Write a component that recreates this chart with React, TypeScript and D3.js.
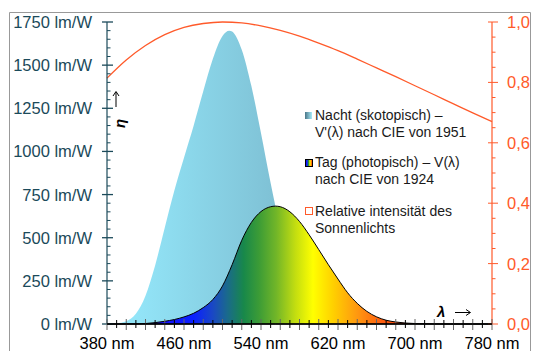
import React, { useRef, useEffect } from 'react';
import * as d3 from 'd3';

// scotopic V'(λ), CIE 1951
const scotNm = [380, 390, 400, 410, 420, 430, 440, 450, 460, 470, 480, 490, 500, 507, 510, 520, 530, 540, 550, 560, 570, 580, 590, 600, 610, 620, 630, 640, 650, 660, 680, 700, 780];
const scotV = [0.000589, 0.002209, 0.00929, 0.03484, 0.0966, 0.1998, 0.3281, 0.455, 0.567, 0.676, 0.793, 0.904, 0.982, 1.0, 0.997, 0.935, 0.811, 0.65, 0.481, 0.3288, 0.2076, 0.1212, 0.0655, 0.03315, 0.01593, 0.00737, 0.003335, 0.001497, 0.000677, 0.000313, 0.0000715, 0.0000178, 0];
const scotPeak = 1700;

// photopic V(λ), CIE 1924
const photNm = [380, 390, 400, 410, 420, 430, 440, 450, 460, 470, 480, 490, 500, 510, 520, 530, 540, 550, 555, 560, 570, 580, 590, 600, 610, 620, 630, 640, 650, 660, 670, 680, 690, 700, 710, 720, 730, 740, 750, 760, 770, 780];
const photV = [0.000039, 0.00012, 0.000396, 0.00121, 0.004, 0.0116, 0.023, 0.038, 0.06, 0.09098, 0.13902, 0.20802, 0.323, 0.503, 0.71, 0.862, 0.954, 0.99495, 1.0, 0.995, 0.952, 0.87, 0.757, 0.631, 0.503, 0.381, 0.265, 0.175, 0.107, 0.061, 0.032, 0.017, 0.00821, 0.004102, 0.002091, 0.001047, 0.00052, 0.000249, 0.00012, 0.00006, 0.00003, 0.000015];
const photPeak = 683;

// relative intensity of sunlight
const sunNm = [380, 400, 420, 440, 460, 480, 500, 520, 540, 560, 580, 600, 620, 640, 660, 680, 700, 720, 740, 760, 780];
const sunRel = [0.814, 0.874, 0.922, 0.958, 0.982, 0.995, 1.0, 0.997, 0.987, 0.972, 0.953, 0.93, 0.905, 0.877, 0.848, 0.819, 0.789, 0.759, 0.729, 0.699, 0.67];

const xTicks = [380, 460, 540, 620, 700, 780];
const yLeftTicks = [0, 250, 500, 750, 1000, 1250, 1500, 1750];
const yRightTicks = [0, 0.2, 0.4, 0.6, 0.8, 1.0];

const legendItems = [
  ['Nacht (skotopisch) –', "V'(λ) nach CIE von 1951"],
  ['Tag (photopisch) – V(λ)', 'nach CIE von 1924'],
  ['Relative intensität des', 'Sonnenlichts'],
];

const spectrum: [number, string][] = [
  [400, '#2400ff'], [470, '#0a20ff'], [490, '#1a48c4'], [505, '#1a6a8c'], [522, '#18884a'],
  [538, '#3c9c36'], [556, '#72b628'], [576, '#c4de10'], [594, '#ffff00'], [615, '#ffd000'],
  [640, '#ff9810'], [665, '#ff6010'], [700, '#ff3000'],
];

const FONT = '"Liberation Sans", Arial, sans-serif';
const TEAL = '#1b4a5a';
const SUN = '#ff5a2a';

const App = () => {
  const svgRef = useRef<SVGSVGElement>(null);

  useEffect(() => {
    const svg = d3.select(svgRef.current);
    svg.selectAll('*').remove();

    const x = d3.scaleLinear().domain([380, 780]).range([107, 492]);
    const yL = d3.scaleLinear().domain([0, 1750]).range([324, 22]);
    const yR = d3.scaleLinear().domain([0, 1]).range([324, 22]);

    const defs = svg.append('defs');
    const scotGrad = defs.append('linearGradient').attr('id', 'scot')
      .attr('gradientUnits', 'userSpaceOnUse')
      .attr('x1', x(410)).attr('x2', x(575)).attr('y1', 0).attr('y2', 0);
    scotGrad.append('stop').attr('offset', 0).attr('stop-color', '#93e5f8');
    scotGrad.append('stop').attr('offset', 1).attr('stop-color', '#7cbcd0');

    const photGrad = defs.append('linearGradient').attr('id', 'phot')
      .attr('gradientUnits', 'userSpaceOnUse')
      .attr('x1', x(400)).attr('x2', x(700)).attr('y1', 0).attr('y2', 0);
    spectrum.forEach(([nm, c]) => {
      photGrad.append('stop').attr('offset', (nm - 400) / 300).attr('stop-color', c);
    });

    const swatchScot = defs.append('linearGradient').attr('id', 'swScot');
    swatchScot.append('stop').attr('offset', 0).attr('stop-color', '#4a7688');
    swatchScot.append('stop').attr('offset', 1).attr('stop-color', '#a8ecfa');
    const swatchPhot = defs.append('linearGradient').attr('id', 'swPhot');
    spectrum.forEach(([nm, c]) => {
      swatchPhot.append('stop').attr('offset', (nm - 400) / 300).attr('stop-color', c);
    });

    // frame
    svg.append('path').attr('d', 'M9.5,351 V12.5 H530.5 V351')
      .attr('fill', 'none').attr('stroke', '#999').attr('stroke-width', 1);

    // scotopic area
    const scotArea = d3.area<number>()
      .x((d, i) => x(scotNm[i]))
      .y0(yL(0))
      .y1(d => yL(d * scotPeak))
      .curve(d3.curveMonotoneX);
    svg.append('path').attr('d', scotArea(scotV)).attr('fill', 'url(#scot)');

    // photopic area
    const photArea = d3.area<number>()
      .x((d, i) => x(photNm[i]))
      .y0(yL(0))
      .y1(d => yL(d * photPeak))
      .curve(d3.curveMonotoneX);
    svg.append('path').attr('d', photArea(photV)).attr('fill', 'url(#phot)')
      .attr('stroke', '#000').attr('stroke-width', 1);

    // sunlight
    const sunLine = d3.line<number>()
      .x((d, i) => x(sunNm[i]))
      .y(d => yR(d))
      .curve(d3.curveMonotoneX);
    svg.append('path').attr('d', sunLine(sunRel)).attr('fill', 'none')
      .attr('stroke', SUN).attr('stroke-width', 1.3);

    // left axis
    const gl = svg.append('g');
    gl.append('line').attr('x1', 107).attr('x2', 107).attr('y1', yL(1750)).attr('y2', yL(0))
      .attr('stroke', TEAL).attr('stroke-width', 1.2);
    d3.range(0, 1751, 50).forEach(v => {
      const major = v % 250 === 0;
      gl.append('line')
        .attr('x1', major ? 102 : 107).attr('x2', major ? 113 : 110.5)
        .attr('y1', yL(v)).attr('y2', yL(v))
        .attr('stroke', TEAL).attr('stroke-width', major ? 1.3 : 1);
    });
    gl.selectAll('text.yl').data(yLeftTicks).enter().append('text')
      .attr('x', 92).attr('y', d => yL(d) + 6)
      .attr('text-anchor', 'end')
      .attr('font-family', FONT).attr('font-size', 16.5)
      .attr('fill', TEAL)
      .text(d => d + ' lm/W');

    // right axis
    const gr = svg.append('g');
    gr.append('line').attr('x1', 492).attr('x2', 492).attr('y1', yR(1)).attr('y2', yR(0))
      .attr('stroke', SUN).attr('stroke-width', 1.2);
    d3.range(0, 21).forEach(k => {
      const v = k * 0.05;
      const major = k % 4 === 0;
      gr.append('line')
        .attr('x1', major ? 488 : 492).attr('x2', major ? 498 : 495.5)
        .attr('y1', yR(v)).attr('y2', yR(v))
        .attr('stroke', SUN).attr('stroke-width', 1);
    });
    gr.selectAll('text.yr').data(yRightTicks).enter().append('text')
      .attr('x', 507).attr('y', d => yR(d) + 6)
      .attr('font-family', FONT).attr('font-size', 16.5)
      .attr('fill', SUN)
      .text(d => d.toFixed(1).replace('.', ','));

    // x axis
    const gx = svg.append('g');
    d3.range(380, 781, 10).forEach(nm => {
      const long = nm % 20 === 0;
      gx.append('line')
        .attr('x1', x(nm)).attr('x2', x(nm))
        .attr('y1', long ? 319 : 320).attr('y2', long ? 330 : 328)
        .attr('stroke', long ? '#666' : '#000').attr('stroke-width', 1);
    });
    gx.append('line').attr('x1', 107).attr('x2', 492).attr('y1', 324).attr('y2', 324)
      .attr('stroke', '#000').attr('stroke-width', 1.3);
    gx.selectAll('text.xt').data(xTicks).enter().append('text')
      .attr('x', d => x(d)).attr('y', 348.5)
      .attr('text-anchor', 'middle')
      .attr('font-family', FONT).attr('font-size', 16.5)
      .attr('fill', '#000')
      .text(d => d + ' nm');

    // axis symbols
    svg.append('text')
      .attr('transform', 'translate(125,128) rotate(-90)')
      .attr('font-family', FONT).attr('font-size', 15).attr('fill', '#000')
      .attr('font-weight', 'bold').attr('font-style', 'italic')
      .text('η');
    svg.append('line').attr('x1', 116).attr('x2', 116).attr('y1', 107).attr('y2', 92)
      .attr('stroke', '#000').attr('stroke-width', 1);
    svg.append('path').attr('d', 'M113,96 L116,91.5 L119,96')
      .attr('fill', 'none').attr('stroke', '#000').attr('stroke-width', 1);

    svg.append('text').attr('x', 437).attr('y', 317)
      .attr('font-family', FONT).attr('font-size', 15).attr('fill', '#000')
      .attr('font-weight', 'bold').attr('font-style', 'italic')
      .text('λ');
    svg.append('line').attr('x1', 455).attr('x2', 470).attr('y1', 312.5).attr('y2', 312.5)
      .attr('stroke', '#000').attr('stroke-width', 1);
    svg.append('path').attr('d', 'M466,309.5 L470.5,312.5 L466,315.5')
      .attr('fill', 'none').attr('stroke', '#000').attr('stroke-width', 1);

    // legend
    const lg = svg.append('g');
    const rows = [120, 167, 216];
    legendItems.forEach((lines, i) => {
      const by = rows[i];
      if (i === 0) {
        lg.append('rect').attr('x', 305).attr('y', by - 8).attr('width', 7).attr('height', 7)
          .attr('fill', 'url(#swScot)');
      } else if (i === 1) {
        lg.append('rect').attr('x', 305.5).attr('y', by - 7.5).attr('width', 7).attr('height', 7)
          .attr('fill', 'url(#swPhot)').attr('stroke', '#000').attr('stroke-width', 1);
      } else {
        lg.append('rect').attr('x', 305.5).attr('y', by - 8.5).attr('width', 7).attr('height', 7)
          .attr('fill', '#fff').attr('stroke', SUN).attr('stroke-width', 1);
      }
      lines.forEach((t, j) => {
        lg.append('text').attr('x', 315).attr('y', by + j * 17)
          .attr('font-family', FONT).attr('font-size', 14).attr('fill', '#1a1a1a')
          .text(t);
      });
    });
  }, []);

  return (
    <svg ref={svgRef} width={533} height={351}
      style={{ position: 'absolute', left: 0, top: 0, background: '#fff' }} />
  );
};

export default App;
